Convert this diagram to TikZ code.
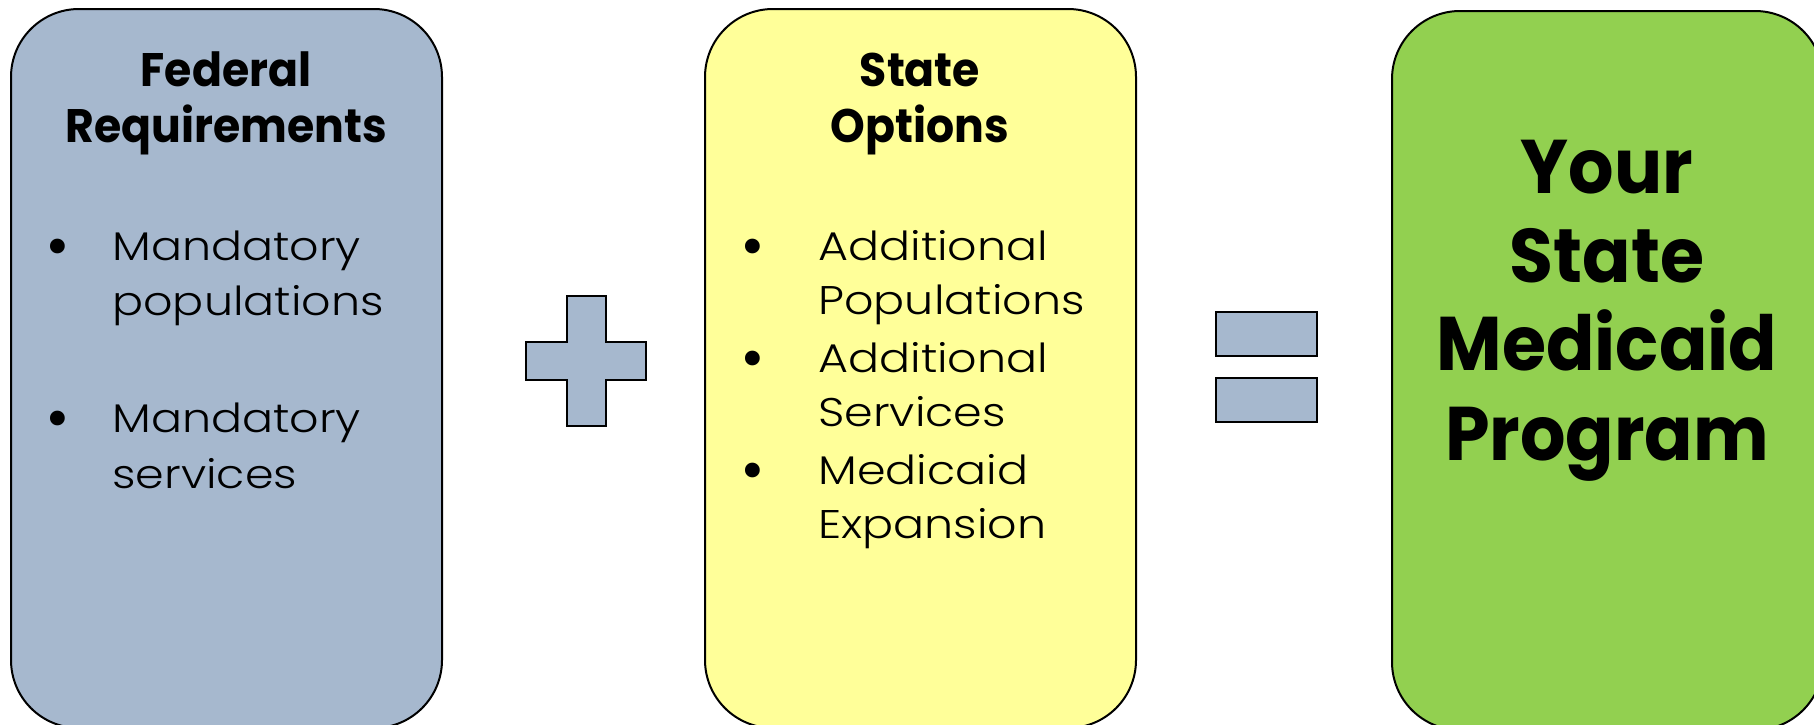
\documentclass[tikz,border=0pt]{standalone}
\usepackage{fontspec}
\setmainfont{Poppins}
\newfontfamily\itemfont{Poppins Light}[FakeStretch=1.15]
\newfontfamily\headfont{Poppins}[FakeStretch=0.94]
\definecolor{fedblue}{HTML}{A6B8CE}
\definecolor{stateyellow}{HTML}{FFFF99}
\definecolor{medgreen}{HTML}{92D050}
\begin{document}
\begin{tikzpicture}[x=0.5pt,y=-0.5pt,
  panel/.style={draw=black, line width=1pt, rounded corners=34pt, minimum width=215.5pt, minimum height=359.5pt, inner sep=0pt, anchor=north west},
  ttl/.style={font=\headfont\fontsize{23.5}{28}\bfseries\selectfont, anchor=base, inner sep=0pt},
  itm/.style={font=\itemfont\fontsize{20}{24}\selectfont, anchor=base west, inner sep=0pt},
  bul/.style={font=\fontsize{30}{34}\selectfont, anchor=base, inner sep=0pt},
  bigt/.style={font=\headfont\fontsize{38}{44}\bfseries\selectfont, anchor=base, inner sep=0pt},
  sign/.style={draw=black, line width=1pt, fill=fedblue}]
\useasboundingbox (0,0) rectangle (1814,724);
% panels
\node[panel, fill=fedblue] (fed) at (10,8) {};
\node[panel, fill=stateyellow] (state) at (704,8) {};
\node[panel, fill=medgreen] (prog) at (1391,10) {};
% plus sign
\draw[sign] (567,296) -- (606,296) -- (606,342) -- (646,342) -- (646,380) -- (606,380) -- (606,426) -- (567,426) -- (567,380) -- (526,380) -- (526,342) -- (567,342) -- cycle;
% equals sign
\draw[sign] (1216,312) rectangle (1317,356);
\draw[sign] (1216,378) rectangle (1317,422);
% federal text
\node[ttl] (f1) at (226,86) {Federal};
\node[ttl] (f2) at (226,142) {Requirements};
\node[bul] (fb1) at (58,266) {•};
\node[itm] (fi1) at (112,260) {Mandatory};
\node[itm] (fi2) at (112,315) {populations};
\node[bul] (fb2) at (58,438) {•};
\node[itm] (fi3) at (112,432) {Mandatory};
\node[itm] (fi4) at (112,488) {services};
% state text
\node[ttl] (s1) at (920,86) {State};
\node[ttl] (s2) at (920,142) {Options};
\node[bul] (sb1) at (753,266) {•};
\node[itm] (si1) at (818,260) {Additional};
\node[itm] (si2) at (818,314) {Populations};
\node[bul] (sb2) at (753,378) {•};
\node[itm] (si3) at (818,372) {Additional};
\node[itm] (si4) at (818,426) {Services};
\node[bul] (sb3) at (753,490) {•};
\node[itm] (si5) at (818,484) {Medicaid};
\node[itm] (si6) at (818,538) {Expansion};
% program text
\node[bigt] (p1) at (1607,193) {Your};
\node[bigt] (p2) at (1607,282) {State};
\node[bigt] (p3) at (1607,370) {Medicaid};
\node[bigt] (p4) at (1607,460) {Program};
\end{tikzpicture}
\end{document}
